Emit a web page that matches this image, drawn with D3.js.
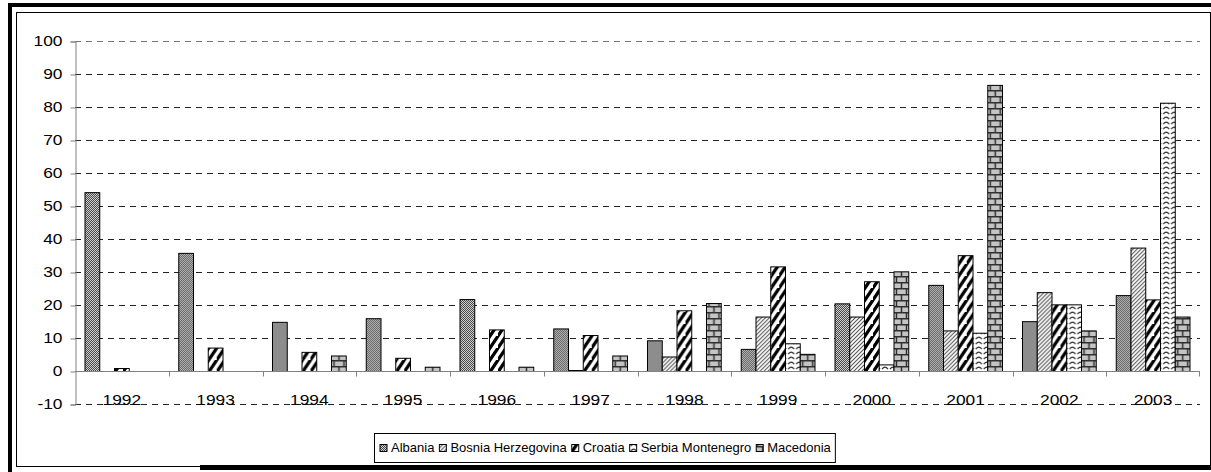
<!DOCTYPE html>
<html>
<head>
<meta charset="utf-8">
<script src="https://cdn.jsdelivr.net/npm/d3@7"></script>
<style>
  body { margin: 0; background: #fff; }
  svg { display: block; font-family: "Liberation Sans", Arial, sans-serif; }
</style>
</head>
<body>
<div id="chart"></div>
<script>
// values (null = no bar)
const years = ['1992', '1993', '1994', '1995', '1996', '1997', '1998', '1999', '2000', '2001', '2002', '2003']
const countries = ['Albania', 'Bosnia Herzegovina', 'Croatia', 'Serbia Montenegro', 'Macedonia']
const albania = [54.2, 35.8, 14.9, 16.0, 21.8, 12.9, 9.3, 6.7, 20.5, 26.1, 15.1, 23.0]
const bosnia = [null, null, null, null, null, 0.3, 4.4, 16.5, 16.5, 12.3, 23.9, 37.4]
const croatia = [0.9, 7.1, 5.8, 4.0, 12.6, 10.9, 18.4, 31.7, 27.2, 35.1, 20.2, 21.7]
const serbia = [null, null, null, null, null, null, null, 8.4, 2.0, 11.6, 20.2, 81.3]
const macedonia = [null, null, 4.7, 1.3, 1.3, 4.7, 20.6, 5.2, 30.2, 86.7, 12.3, 16.5]
const yTicks = [-10, 0, 10, 20, 30, 40, 50, 60, 70, 80, 90, 100]

const series = [albania, bosnia, croatia, serbia, macedonia]

const width = 1211, height = 472
const stretch = 1.24   // axis text in the picture is drawn wider than normal

const svg = d3.select('#chart').append('svg')
    .attr('width', width)
    .attr('height', height)

// fill patterns, one per country
const defs = svg.append('defs')

let p = defs.append('pattern').attr('id', 'pat0')
    .attr('patternUnits', 'userSpaceOnUse').attr('width', 2).attr('height', 2)
p.append('rect').attr('width', 2).attr('height', 2).attr('fill', '#cfcfcf')
p.append('rect').attr('width', 1).attr('height', 1).attr('fill', '#4a4a4a')
p.append('rect').attr('x', 1).attr('y', 1).attr('width', 1).attr('height', 1).attr('fill', '#4a4a4a')

p = defs.append('pattern').attr('id', 'pat1')
    .attr('patternUnits', 'userSpaceOnUse').attr('width', 4).attr('height', 4)
p.append('rect').attr('width', 4).attr('height', 4).attr('fill', '#fff')
p.append('path').attr('d', 'M-1,5 L5,-1 M-1,1 L1,-1 M3,5 L5,3')
    .attr('stroke', '#555').attr('stroke-width', 1.1)

p = defs.append('pattern').attr('id', 'pat2')
    .attr('patternUnits', 'userSpaceOnUse').attr('width', 8).attr('height', 12)
p.append('rect').attr('width', 8).attr('height', 12).attr('fill', '#fff')
p.append('path').attr('d', 'M-2,15 L10,-3 M-6,9 L2,-3 M6,21 L14,9')
    .attr('stroke', '#000').attr('stroke-width', 3.2)

p = defs.append('pattern').attr('id', 'pat3')
    .attr('patternUnits', 'userSpaceOnUse').attr('width', 8).attr('height', 5)
p.append('rect').attr('width', 8).attr('height', 5).attr('fill', '#fff')
p.append('path').attr('d', 'M1,4.2 Q4,0.2 7,4.2')
    .attr('stroke', '#333').attr('stroke-width', 1.2).attr('fill', 'none')

p = defs.append('pattern').attr('id', 'pat4')
    .attr('patternUnits', 'userSpaceOnUse').attr('width', 10).attr('height', 12)
p.append('rect').attr('width', 10).attr('height', 12).attr('fill', '#c4c4c4')
p.append('path').attr('d', 'M0,0.75 H10 M0,6.75 H10 M1.5,0 V6 M6.5,6 V12')
    .attr('stroke', '#303030').attr('stroke-width', 1.5)

// outer frame
svg.append('rect').attr('x', 8).attr('y', 3).attr('width', width - 8).attr('height', 4).attr('fill', '#000')
svg.append('rect').attr('x', 8).attr('y', 3).attr('width', 4).attr('height', height - 3).attr('fill', '#000')
svg.append('rect').attr('x', 200).attr('y', 465).attr('width', width - 200).attr('height', 5).attr('fill', '#000')
svg.append('rect').attr('x', 16.5).attr('y', 12.5).attr('width', width - 17).attr('height', 454)
    .attr('fill', 'none').attr('stroke', '#000')

// scales
const x0 = d3.scaleBand().domain(years).range([75, 1200])
const x1 = d3.scaleBand().domain(countries).range([10, x0.bandwidth() - 10])
const y = d3.scaleLinear().domain([-10, 100]).range([404.5, 41.5])

// dashed gridlines
svg.append('g')
    .selectAll('line')
    .data(yTicks.filter(d => d !== 0))
    .join('line')
    .attr('x1', 75).attr('x2', 1200)
    .attr('y1', d => y(d)).attr('y2', d => y(d))
    .attr('stroke', d => d === 100 ? '#777' : '#222')
    .attr('stroke-dasharray', '6,5')

// y axis
const yAxis = svg.append('g')
    .attr('transform', 'translate(75.5,0)')
    .call(d3.axisLeft(y).tickValues(yTicks).tickSize(5).tickPadding(7).tickFormat(d => String(d)))
yAxis.select('.domain').attr('stroke', '#808080')
yAxis.selectAll('.tick line').attr('stroke', '#808080')
yAxis.selectAll('.tick text')
    .attr('font-size', 14).attr('fill', '#000')
    .attr('font-family', '"Liberation Sans", Arial, sans-serif')
    .attr('x', -13 / stretch)
    .attr('transform', `scale(${stretch},1)`)

// bars
const groups = svg.append('g')
    .selectAll('g')
    .data(years)
    .join('g')
    .attr('transform', d => `translate(${x0(d)},0)`)

groups.selectAll('rect')
    .data((d, i) => countries.map((c, k) => ({c: c, k: k, v: series[k][i]})).filter(e => e.v !== null))
    .join('rect')
    .attr('x', d => x1(d.c))
    .attr('width', x1.bandwidth())
    .attr('y', d => y(d.v))
    .attr('height', d => y(0) - y(d.v))
    .attr('fill', d => `url(#pat${d.k})`)
    .attr('stroke', '#000')
    .attr('stroke-width', 1)

// x axis line at 0, with ticks between categories
svg.append('line')
    .attr('x1', 75).attr('x2', 1200)
    .attr('y1', y(0)).attr('y2', y(0))
    .attr('stroke', '#808080')
svg.append('g')
    .selectAll('line')
    .data(years.slice(1).concat(['end']))
    .join('line')
    .attr('x1', d => d === 'end' ? 1199.5 : Math.round(x0(d)) + 0.5)
    .attr('x2', d => d === 'end' ? 1199.5 : Math.round(x0(d)) + 0.5)
    .attr('y1', y(0)).attr('y2', y(0) + 5)
    .attr('stroke', '#808080')

// category labels sit at the bottom of the plot
svg.append('g')
    .attr('transform', `scale(${stretch},1)`)
    .selectAll('text')
    .data(years)
    .join('text')
    .attr('x', d => (x0(d) + x0.bandwidth() / 2) / stretch)
    .attr('y', 405)
    .attr('text-anchor', 'middle')
    .attr('font-size', 14)
    .text(d => d)

// legend
const legend = svg.append('g')
const items = legend.selectAll('g')
    .data(countries)
    .join('g')
items.append('rect')
    .attr('width', 7).attr('height', 7)
    .attr('y', -7.5)
    .attr('fill', (d, i) => `url(#pat${i})`)
    .attr('stroke', '#000')
items.append('text')
    .attr('x', 11)
    .attr('font-size', 13)
    .text(d => d)

let lx = 0
items.each(function () {
    d3.select(this).attr('transform', `translate(${lx},0)`)
    lx += 11 + d3.select(this).select('text').node().getComputedTextLength() + 5
})
const legendW = lx - 5 + 10
const legendX = 605 - legendW / 2
legend.insert('rect', ':first-child')
    .attr('x', -5.5).attr('y', -18.5)
    .attr('width', legendW).attr('height', 29)
    .attr('fill', '#fff').attr('stroke', '#000')
legend.attr('transform', `translate(${Math.round(legendX) + 5},452)`)
</script>
</body>
</html>
